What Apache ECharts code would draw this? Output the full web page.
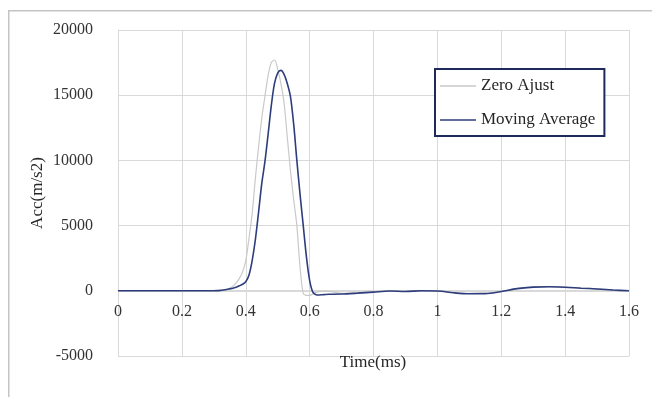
<!DOCTYPE html>
<html>
<head>
<meta charset="utf-8">
<script src="https://cdn.jsdelivr.net/npm/echarts@6/dist/echarts.min.js"></script>
<style>
html,body{margin:0;padding:0;background:#fff;}
#chart{width:652px;height:397px;}
</style>
</head>
<body>
<div id="chart"></div>
<script>
// Time (ms)
var times = [0, 0.1, 0.2, 0.3, 0.31, 0.32, 0.33, 0.34, 0.35, 0.36, 0.37, 0.38, 0.39, 0.40, 0.41, 0.42, 0.43, 0.44, 0.45, 0.46, 0.47, 0.48, 0.49, 0.50, 0.51, 0.52, 0.53, 0.54, 0.55, 0.56, 0.57, 0.58, 0.59, 0.60, 0.61, 0.62, 0.63, 0.64, 0.65, 0.66, 0.70, 0.75, 0.80, 0.85, 0.90, 0.95, 1.0, 1.05, 1.1, 1.15, 1.2, 1.25, 1.3, 1.35, 1.4, 1.45, 1.5, 1.55, 1.6];
var zeroAjust = [0, 0, 0, 0, 0, 20, 50, 100, 200, 350, 600, 950, 1450, 2300, 4000, 5900, 8600, 11000, 13200, 14900, 16500, 17500, 17700, 17000, 15900, 14400, 11800, 9200, 7000, 5000, 1800, -200, -350, -350, -250, -120, -60, -50, -50, -50, -200, -150, -80, 0, -30, 10, 0, -130, -200, -200, -40, 180, 290, 320, 280, 210, 150, 70, 0];
var movingAverage = [0, 0, 0, 0, 10, 30, 60, 100, 150, 200, 280, 380, 500, 700, 1200, 2300, 3900, 6000, 8200, 9900, 12000, 14200, 15900, 16700, 16900, 16600, 15900, 14900, 12800, 10000, 7400, 5000, 2600, 800, -100, -300, -320, -300, -280, -270, -250, -180, -100, -20, -50, 0, -10, -150, -230, -220, -60, 170, 280, 310, 270, 200, 140, 60, 0];
var seriesNames = ['Zero Ajust', 'Moving Average'];
var yTicks = {min: -5000, max: 20000, step: 5000};
var xTicks = {min: 0, max: 1.6, step: 0.2};
var xTitle = 'Time(ms)';
var yTitle = 'Acc(m/s2)';

function pairs(xs, ys) { return xs.map(function (x, i) { return [x, ys[i]]; }); }

var font = 'Liberation Serif';
var chart = echarts.init(document.getElementById('chart'));
chart.setOption({
  backgroundColor: '#ffffff',
  animation: false,
  graphic: [{
    type: 'rect', left: 8, top: 10, z: -10,
    shape: {width: 700, height: 420},
    style: {fill: '#ffffff', stroke: '#c4c4c4', lineWidth: 1.5}
  }, {
    type: 'text', x: 373, y: 363, z: 10,
    style: {text: xTitle, fontFamily: font, fontSize: 17, fill: '#262626', align: 'center', verticalAlign: 'middle'}
  }],
  grid: {left: 118, right: 23, top: 30, bottom: 41, containLabel: false, outerBoundsMode: 'none'},
  legend: {
    orient: 'vertical', left: 435, top: 69,
    data: seriesNames,
    icon: 'rect',
    itemWidth: 36, itemHeight: 1.6, itemGap: 16,
    padding: [8, 9, 7, 5],
    borderColor: '#1f2a5c', borderWidth: 2,
    backgroundColor: '#ffffff',
    textStyle: {fontFamily: font, fontSize: 17, color: '#262626', lineHeight: 18}
  },
  xAxis: {
    type: 'value', min: xTicks.min, max: xTicks.max, interval: xTicks.step,
    offset: -66,
    axisLine: {onZero: false, lineStyle: {color: '#d9d9d9', width: 1}},
    axisTick: {show: false},
    axisLabel: {fontFamily: font, fontSize: 16, color: '#333333', margin: 14},
    splitLine: {show: true, lineStyle: {color: '#d9d9d9', width: 1}}
  },
  yAxis: {
    type: 'value', min: yTicks.min, max: yTicks.max, interval: yTicks.step,
    name: yTitle, nameLocation: 'middle', nameGap: 72, nameRotate: 90, nameMoveOverlap: false,
    nameTextStyle: {fontFamily: font, fontSize: 17, color: '#262626'},
    axisLine: {show: true, onZero: false, lineStyle: {color: '#d9d9d9', width: 1}},
    axisTick: {show: false},
    axisLabel: {fontFamily: font, fontSize: 16, color: '#333333', margin: 25,
      formatter: function (v) { return String(v); }},
    splitLine: {show: true, lineStyle: {color: '#d9d9d9', width: 1}}
  },
  series: [{
    name: seriesNames[0], type: 'line', symbol: 'none', smooth: 0.3,
    data: pairs(times, zeroAjust),
    lineStyle: {color: '#c9c9c9', width: 1.2},
    itemStyle: {color: '#c9c9c9'}
  }, {
    name: seriesNames[1], type: 'line', symbol: 'none', smooth: 0.3,
    data: pairs(times, movingAverage),
    lineStyle: {color: '#2e3d7c', width: 1.6},
    itemStyle: {color: '#2e3d7c'}
  }]
});
</script>
</body>
</html>
